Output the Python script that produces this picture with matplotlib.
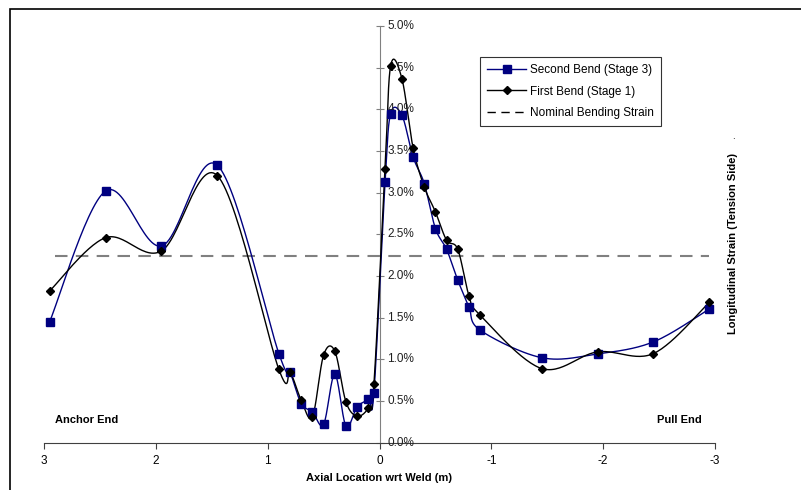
import numpy as np
import matplotlib.pyplot as plt
from matplotlib.patches import Rectangle
from matplotlib.transforms import ScaledTranslation

plt.rcParams['font.family'] = ['Liberation Sans', 'DejaVu Sans']

# axial location wrt weld (m), shared by both bends
location = [2.95, 2.45, 1.95, 1.45, 0.9, 0.8, 0.7, 0.6, 0.5, 0.4, 0.3, 0.2, 0.1, 0.05,
            -0.05, -0.1, -0.2, -0.3, -0.4, -0.5, -0.6, -0.7, -0.8, -0.9,
            -1.45, -1.95, -2.45, -2.95]

# longitudinal strain, percent
second_bend = [1.45, 3.02, 2.36, 3.33, 1.07, 0.845, 0.47, 0.37, 0.22, 0.82, 0.20, 0.43, 0.52, 0.60,
               3.13, 3.95, 3.93, 3.43, 3.11, 2.57, 2.32, 1.95, 1.63, 1.35,
               1.02, 1.065, 1.21, 1.605]
first_bend = [1.82, 2.46, 2.30, 3.205, 0.88, 0.845, 0.51, 0.31, 1.05, 1.10, 0.49, 0.32, 0.42, 0.70,
              3.29, 4.525, 4.37, 3.54, 3.07, 2.77, 2.43, 2.32, 1.765, 1.53,
              0.89, 1.09, 1.07, 1.685]

nominal_x = [2.9, -2.95]
nominal_strain = [2.245, 2.245]

x_ticks = [3, 2, 1, 0, -1, -2, -3]
y_ticks = [0.0, 0.5, 1.0, 1.5, 2.0, 2.5, 3.0, 3.5, 4.0, 4.5, 5.0]


def smooth(xs, ys, n=30):
    # excel style smoothed line (catmull-rom bezier through the points)
    p = np.column_stack([xs, ys]).astype(float)
    p = np.vstack([p[0], p, p[-1]])
    out = []
    t = np.linspace(0, 1, n)[:, None]
    for i in range(1, len(p) - 2):
        p0, p1, p2, p3 = p[i - 1], p[i], p[i + 1], p[i + 2]
        c1 = p1 + (p2 - p0) / 6
        c2 = p2 - (p3 - p1) / 6
        seg = ((1 - t) ** 3) * p1 + 3 * ((1 - t) ** 2) * t * c1 + 3 * (1 - t) * t ** 2 * c2 + t ** 3 * p2
        out.append(seg if i == 1 else seg[1:])
    out = np.vstack(out)
    return out[:, 0], out[:, 1]


fig = plt.figure(figsize=(8.01, 4.90), dpi=100)
fig.patches.append(Rectangle((10 / 801, -0.1), 1.2, 1 - 9 / 490 + 0.1, transform=fig.transFigure,
                             fill=False, edgecolor='black', linewidth=1.2))
ax = fig.add_axes([44 / 801, 1 - 442.7 / 490, (715 - 44) / 801, (442.7 - 26) / 490])

navy = '#000080'
sx, sy = smooth(location, second_bend)
ax.plot(sx, sy, color=navy, linewidth=1, zorder=3)
ax.plot(location, second_bend, 's', color=navy, markersize=6, zorder=4)

fx, fy = smooth(location, first_bend)
ax.plot(fx, fy, color='black', linewidth=1, zorder=3)
ax.plot(location, first_bend, 'D', color='black', markersize=4, zorder=4)

ax.plot(nominal_x, nominal_strain, color='#808080', linewidth=1.5, dashes=(6, 4), zorder=2)

ax.set_xlim(3, -3)
ax.set_ylim(0, 5)
ax.set_xticks(x_ticks)
ax.set_xticklabels([str(v) for v in x_ticks])
ax.set_yticks(y_ticks)

for s in ['top', 'right']:
    ax.spines[s].set_visible(False)
ax.spines['left'].set_position(('data', 0))
ax.spines['left'].set_color('#808080')
ax.spines['bottom'].set_color('#404040')
ax.tick_params(axis='x', direction='out', length=4, color='#404040', labelsize=8.5, pad=5)
ax.tick_params(axis='y', direction='inout', length=6, color='#808080', labelleft=False)

# y tick labels sit just right of the central axis
off = ax.transData + ScaledTranslation(8 / 100, 0, fig.dpi_scale_trans)
for v in y_ticks:
    ax.text(0, v, f'{v:.1f}%', transform=off, fontsize=8.5, ha='left', va='center', color='#202020')

ax.set_xlabel('Axial Location wrt Weld (m)', fontsize=8, fontweight='bold', labelpad=4)
fig.text(733 / 801, 1 - 244 / 490, 'Longitudinal Strain (Tension Side)', rotation=90,
         fontsize=8, fontweight='bold', ha='center', va='center')
fig.text(733 / 801, 1 - 136 / 490, '.', fontsize=7, ha='center', va='center')

ax.text(2.9, 0.27, 'Anchor End', fontsize=8, fontweight='bold', ha='left', va='center')
ax.text(-2.88, 0.27, 'Pull End', fontsize=8, fontweight='bold', ha='right', va='center')

ax.plot([], [], '-s', color=navy, markersize=6, linewidth=1, label='Second Bend (Stage 3)')
ax.plot([], [], '-D', color='black', markersize=4, linewidth=1, label='First Bend (Stage 1)')
ax.plot([], [], color='black', linewidth=1, dashes=(6, 4), label='Nominal Bending Strain')
handles, labels = ax.get_legend_handles_labels()
leg = ax.legend(handles[-3:], labels[-3:], loc='upper left',
                bbox_to_anchor=((480 - 44) / 671, 1 - (57 - 26) / 416.7),
                fontsize=8.5, frameon=True, fancybox=False, edgecolor='black',
                borderpad=0.6, labelspacing=0.8, handlelength=3.3, handletextpad=0.3,
                borderaxespad=0)
leg.get_frame().set_linewidth(0.8)

fig.savefig('out.png', dpi=100)
